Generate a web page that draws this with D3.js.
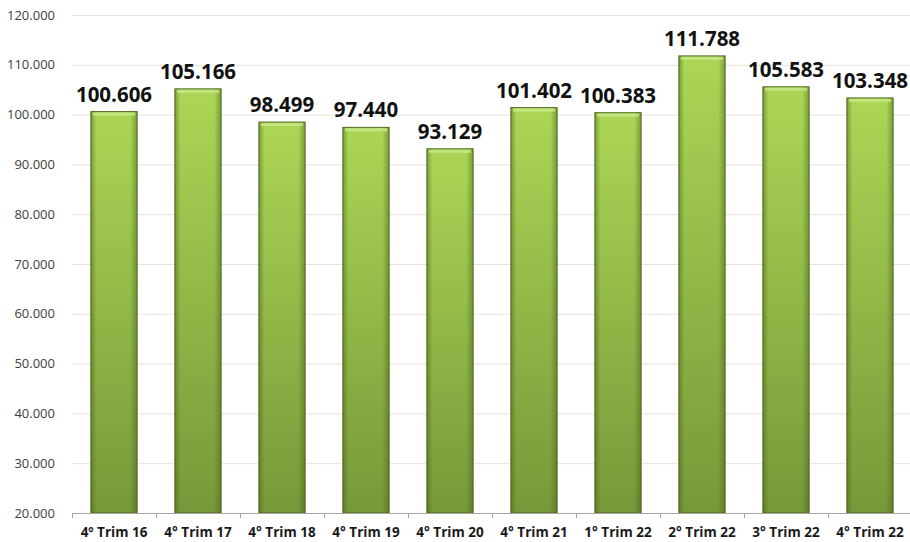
<!DOCTYPE html>
<html><head><meta charset="utf-8">
<script src="https://cdn.jsdelivr.net/npm/d3@7"></script>
<style>body{margin:0;background:#fff}svg{display:block}</style>
</head><body>
<svg id="c" width="910" height="542"></svg>
<script>
const categories = ["4º Trim 16","4° Trim 17","4° Trim 18","4° Trim 19","4° Trim 20","4° Trim 21","1° Trim 22","2° Trim 22","3° Trim 22","4° Trim 22"];
const values = [100606,105166,98499,97440,93129,101402,100383,111788,105583,103348];
const valueLabels = ["100.606","105.166","98.499","97.440","93.129","101.402","100.383","111.788","105.583","103.348"];
const yTicks = [20000,30000,40000,50000,60000,70000,80000,90000,100000,110000,120000];

const svg = d3.select("#c");
const m = {l:72, r:-2, t:15, b:29};
const W = 910, H = 542;
const x = d3.scaleBand().domain(categories).range([m.l, W - m.r]).paddingInner(0.45).paddingOuter(0.225);
const y = d3.scaleLinear().domain([20000,120000]).range([H - m.b, m.t]);

const defs = svg.append("defs");
const gv = defs.append("linearGradient").attr("id","gv").attr("x1",0).attr("y1",0).attr("x2",0).attr("y2",1);
gv.append("stop").attr("offset","0%").attr("stop-color","#acd656");
gv.append("stop").attr("offset","100%").attr("stop-color","#779839");
const gh = defs.append("linearGradient").attr("id","gh").attr("x1",0).attr("y1",0).attr("x2",1).attr("y2",0);
gh.append("stop").attr("offset","0%").attr("stop-color","#3d5a14").attr("stop-opacity",0.45);
gh.append("stop").attr("offset","12%").attr("stop-color","#3d5a14").attr("stop-opacity",0);
gh.append("stop").attr("offset","85%").attr("stop-color","#3d5a14").attr("stop-opacity",0);
gh.append("stop").attr("offset","100%").attr("stop-color","#3d5a14").attr("stop-opacity",0.45);

// gridlines
svg.append("g").selectAll("line").data(yTicks.slice(1)).join("line")
  .attr("x1", m.l).attr("x2", W).attr("y1", d=>y(d)+0.5).attr("y2", d=>y(d)+0.5)
  .attr("stroke","#e4e4d6").attr("stroke-width",1);

// y axis labels
const fmt = d => d3.format(",")(d).replace(/,/g,".");
svg.append("g").selectAll("text").data(yTicks).join("text")
  .attr("x", 55).attr("y", d=>y(d)).attr("dy","0.35em").attr("text-anchor","end")
  .attr("font-family","'Open Sans', sans-serif").attr("font-size",13).attr("fill","#404040")
  .text(fmt);

// bars
const bars = svg.append("g").selectAll("g").data(values).join("g");
bars.append("rect")
  .attr("x",(d,i)=>x(categories[i])).attr("y",d=>y(d)).attr("width",x.bandwidth()).attr("height",d=>y(20000)-y(d))
  .attr("fill","url(#gv)").attr("stroke","#4f6b22").attr("stroke-width",1);
bars.append("rect")
  .attr("x",(d,i)=>x(categories[i])).attr("y",d=>y(d)).attr("width",x.bandwidth()).attr("height",d=>y(20000)-y(d))
  .attr("fill","url(#gh)");
bars.append("rect")
  .attr("x",(d,i)=>x(categories[i])+2).attr("y",d=>y(d)+1).attr("width",x.bandwidth()-4).attr("height",3)
  .attr("fill","#c8e88a").attr("opacity",0.8);

// x axis
const xa = svg.append("g");
xa.append("line").attr("x1",m.l).attr("x2",W).attr("y1",y(20000)+0.5).attr("y2",y(20000)+0.5).attr("stroke","#a6a6a6");
xa.selectAll("line.t").data(d3.range(categories.length+1)).join("line").attr("class","t")
  .attr("x1",i=>Math.round(m.l + i*x.step())+0.5).attr("x2",i=>Math.round(m.l + i*x.step())+0.5)
  .attr("y1",y(20000)).attr("y2",y(20000)+5).attr("stroke","#a6a6a6");
xa.selectAll("text").data(categories).join("text")
  .attr("x",d=>x(d)+x.bandwidth()/2).attr("y",537).attr("text-anchor","middle")
  .attr("font-family","'Open Sans', sans-serif").attr("font-weight","bold").attr("font-size",13.5).attr("fill","#1a1a1a")
  .text(d=>d);

// value labels
svg.append("g").selectAll("text").data(values).join("text")
  .attr("x",(d,i)=>x(categories[i])+x.bandwidth()/2).attr("y",d=>y(d)-10).attr("text-anchor","middle")
  .attr("font-family","'Open Sans', sans-serif").attr("font-weight","bold").attr("font-size",20.5).attr("fill","#111")
  .text((d,i)=>valueLabels[i]);
</script>
</body></html>
